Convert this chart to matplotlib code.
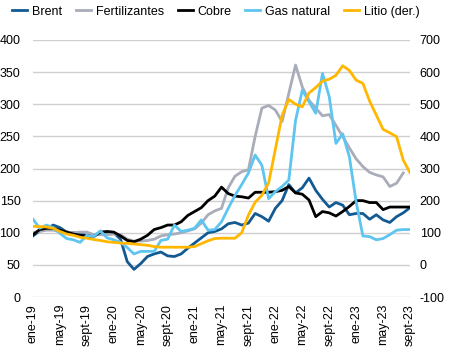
import numpy as np
import matplotlib
matplotlib.use("Agg")
import matplotlib.pyplot as plt

plt.rcParams['font.family'] = ['Liberation Sans', 'DejaVu Sans']

# meses ene-19 .. sept-23
meses = ["ene", "feb", "mar", "abr", "may", "jun", "jul", "ago", "sept", "oct", "nov", "dic"]
etiquetas = [f"{meses[i % 12]}-{19 + i // 12}" for i in range(57)]

brent = [95, 103, 106, 112, 108, 101, 100, 98, 96, 95, 100, 101, 100, 90, 55, 43,
         52, 63, 67, 70, 64, 63, 67, 76, 84, 92, 100, 102, 106, 114, 116, 112,
         115, 130, 125, 118, 138, 150, 175, 162, 170, 185, 166, 152, 140, 147, 143, 128,
         130, 130, 121, 128, 120, 116, 125, 131, 139]

fertilizantes = [100, 102, 104, 104, 102, 101, 100, 101, 101, 97, 97, 97, 98, 97, 90, 87,
                 87, 88, 90, 95, 97, 98, 100, 103, 106, 115, 128, 134, 138, 170, 188, 195,
                 198, 250, 294, 298, 291, 273, 317, 361, 327, 306, 294, 282, 284, 267, 250, 232,
                 215, 203, 194, 190, 187, 172, 177, 193, np.nan]

cobre = [97, 105, 107, 107, 104, 101, 98, 96, 95, 94, 101, 102, 101, 95, 88, 86,
         90, 96, 105, 108, 112, 112, 117, 127, 133, 139, 150, 157, 171, 161, 157, 156,
         154, 163, 163, 163, 164, 166, 172, 162, 160, 151, 125, 133, 131, 126, 133, 141,
         150, 150, 147, 147, 136, 140, 140, 140, 140]

gas = [121, 107, 112, 108, 99, 91, 89, 85, 96, 94, 103, 92, 89, 85, 77, 67,
       71, 71, 71, 88, 90, 112, 102, 104, 107, 120, 104, 105, 117, 138, 158, 175,
       193, 221, 205, 153, 164, 172, 182, 275, 322, 304, 286, 348, 312, 239, 254, 218,
       148, 95, 94, 89, 91, 97, 104, 105, 105]

litio = [120, 119, 118, 114, 104, 96, 92, 86, 83, 79, 76, 72, 70, 68, 67, 65,
         63, 61, 57, 55, 55, 55, 55, 55, 57, 66, 75, 82, 83, 83, 83, 100,
         155, 195, 217, 255, 360, 465, 515, 500, 492, 535, 552, 572, 578, 590, 620, 605,
         575, 565, 510, 466, 422, 411, 399, 326, 287]

x = np.arange(len(etiquetas))

fig = plt.figure(figsize=(4.49, 3.54), dpi=100)
ax = fig.add_axes([33 / 449, 1 - 297 / 354, 377 / 449, 257 / 354])
ax2 = ax.twinx()

lw = 2.0
ax.plot(x, brent, color="#135a92", lw=lw, label="Brent")
ax.plot(x, fertilizantes, color="#a9adb9", lw=lw, label="Fertilizantes")
ax.plot(x, cobre, color="black", lw=lw, label="Cobre")
ax.plot(x, gas, color="#5ec5f0", lw=lw, label="Gas natural")
ax2.plot(x, litio, color="#ffb700", lw=lw, label="Litio (der.)")

ax.set_xlim(0, 56)
ax.set_ylim(0, 400)
ax.set_yticks(range(0, 401, 50))
ax2.set_ylim(-100, 700)
ax2.set_yticks(range(-100, 701, 100))
ax2.set_yticklabels([str(v) for v in range(-100, 701, 100)])

ax.set_xticks(x[::4])
ax.set_xticklabels(etiquetas[::4], rotation=90, fontsize=9)
ax.tick_params(axis="y", labelsize=9, length=0, pad=9)
ax.tick_params(axis="x", length=0, pad=5)
ax2.tick_params(axis="y", labelsize=9, length=0, pad=7)

ax.grid(axis="y", color="#cfcfcf", lw=1)
ax.set_axisbelow(True)
for a in (ax, ax2):
    for s in a.spines.values():
        s.set_visible(False)

h1, l1 = ax.get_legend_handles_labels()
h2, l2 = ax2.get_legend_handles_labels()
fig.legend(h1 + h2, l1 + l2, loc="upper left", bbox_to_anchor=(0.01, 1.005), ncol=5,
           frameon=False, fontsize=9, handlelength=1.2, handletextpad=0.4,
           columnspacing=1.1, borderaxespad=0.2)

fig.savefig("out.png", dpi=100)
